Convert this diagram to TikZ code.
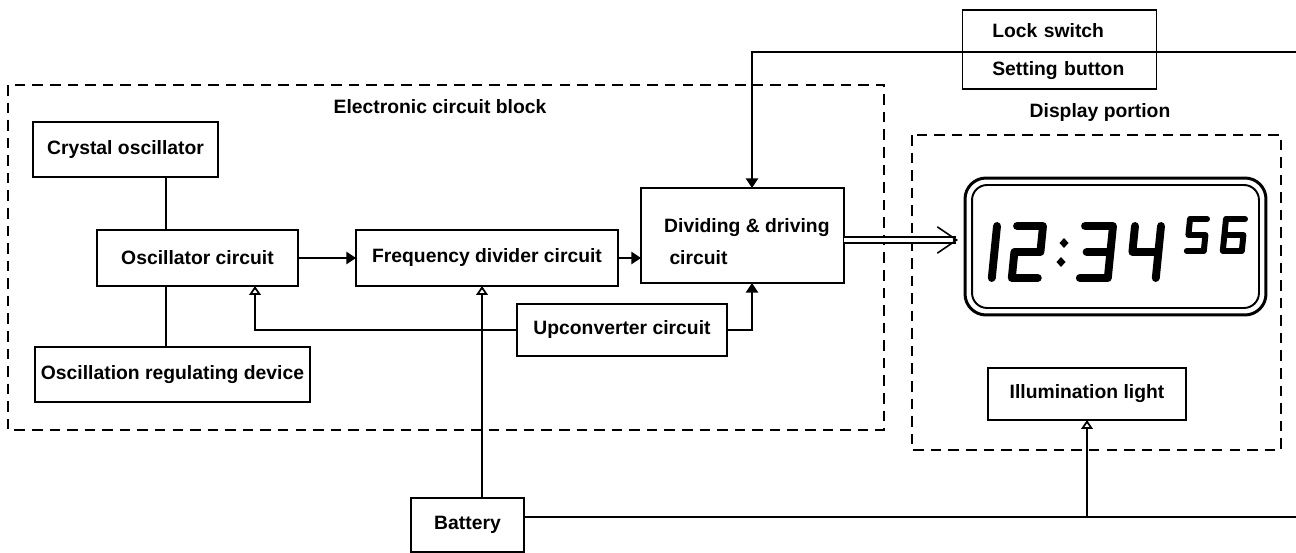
\documentclass[tikz,border=0pt]{standalone}
\usepackage{fontspec}
\setmainfont{Liberation Sans}
\usetikzlibrary{arrows.meta,positioning,calc}
\tikzset{
  blk/.style={draw,line width=1pt,outer sep=0pt,inner sep=2pt,font=\fontsize{11}{13}\selectfont\bfseries,align=center},
  grp/.style={draw,line width=1pt,dash pattern=on 6pt off 4pt},
  grplabel/.style={font=\fontsize{11}{13}\selectfont\bfseries},
  ln/.style={line width=1pt},
  ar/.style={ln,-{Triangle[length=5.5pt,width=7pt]}},
  aro/.style={ln,-{Triangle[open,length=5pt,width=6.5pt]}},
  segline/.style={line width=4.5pt,line cap=round,line join=round},
  segsmall/.style={segline,line width=3.4pt},
}
% one slanted seven-segment figure: [style]{x}{y}{w}{h}{strokes}
\newcommand{\lcddigit}[6][segline]{%
  \begin{scope}[shift={(#2,#3)},xslant=0.1,xscale=#4,yscale=#5]
    \draw[#1] #6;
  \end{scope}}
\begin{document}
\begin{tikzpicture}[x=0.02cm,y=-0.02cm]
  \useasboundingbox (0,0) rectangle (1296,553);
  % groups
  \draw[grp] (8,85) rectangle (884,430);
  \node[grplabel] (ecblabel) at (440,107) {Electronic circuit block};
  \draw[grp] (912,135) rectangle (1281,450);
  \node[grplabel] (displabel) at (1100,113) {Display portion};
  % blocks
  \node[blk,minimum width=3.70cm,minimum height=1.10cm] (crystal) at (125.5,149.5) {Crystal oscillator};
  \node[blk,minimum width=4.02cm,minimum height=1.12cm] (osc) at (197.5,258) {Oscillator circuit};
  \node[blk,minimum width=5.50cm,minimum height=1.10cm] (reg) at (172.5,374.5) {Oscillation regulating device};
  \node[blk,minimum width=5.24cm,minimum height=1.12cm] (freq) at (487,258) {Frequency divider circuit};
  \node[blk,minimum width=4.06cm,minimum height=1.90cm] (div) at (742.5,235.5) {};
  \node[grplabel,align=left,anchor=west] (divtext) at ($(div.west)+(17,6)$) {Dividing \& driving\\[5.5pt]\hspace{3pt}circuit};
  \node[blk,minimum width=4.20cm,minimum height=1.04cm] (upconv) at (622,330) {Upconverter circuit};
  \node[blk,minimum width=2.26cm,minimum height=1.08cm] (battery) at (467.5,525) {Battery};
  \node[blk,align=left,text width=76.5pt,inner xsep=17pt,minimum height=0.84cm] (lock) at (1059.5,31) {Lock switch};
  \node[blk,align=left,text width=76.5pt,inner xsep=17pt,minimum height=0.74cm,below=0pt of lock] (setting) {Setting button};
  \node[blk,minimum width=3.96cm,minimum height=1.04cm] (illum) at (1087,394) {Illumination light};
  % display panel
  \node[draw,line width=1.7pt,rounded corners=0.42cm,minimum width=6.02cm,minimum height=2.74cm,outer sep=0pt] (lcd) at (1115.5,246.5) {};
  \draw[line width=1.1pt,rounded corners=0.3cm] ($(lcd.north west)+(7,7)$) rectangle ($(lcd.south east)+(-7,-7)$);
  \lcddigit{997}{226}{1}{52}{(0,0)--(0,1)}
  \lcddigit{1017}{226}{26}{52}{(0,0)--(1,0)--(1,0.5)--(0,0.5)--(0,1)--(1,1)}
  \lcddigit{1085}{226}{28}{52}{(0,0)--(1,0)--(1,1)--(0,1) (0.15,0.5)--(1,0.5)}
  \lcddigit{1135}{226}{26}{52}{(0,0)--(0,0.5)--(1,0.5) (1,0)--(1,1)}
  \lcddigit[segsmall]{1190}{219}{17}{32}{(1,0)--(0,0)--(0,0.5)--(1,0.5)--(1,1)--(0,1)}
  \lcddigit[segsmall]{1226}{219}{19}{32}{(1,0)--(0,0)--(0,1)--(1,1)--(1,0.5)--(0,0.5)}
  \foreach \cx/\cy in {1064/243,1061/262}
    \fill (\cx,\cy) +(0,-5) -- +(4.5,0) -- +(0,5) -- +(-4.5,0) -- cycle;
  % connections
  \coordinate (osctap) at (166,0);
  \coordinate (uptap) at (255,0);
  \coordinate (battap) at (482,0);
  \coordinate (locktap) at (752,52);
  \coordinate (lockend) at (1296,52);
  \coordinate (dispy) at (0,240);
  \coordinate (batline) at (0,517);
  \coordinate (batend) at (1296,517);
  \draw[ln] (crystal.south -| osctap) -- (osc.north -| osctap);
  \draw[ln] (osc.south -| osctap) -- (reg.north -| osctap);
  \draw[ar] (osc.east) -- (freq.west);
  \draw[ar] (freq.east) -- (freq.east -| div.west);
  \draw[aro] (upconv.west) -| (osc.south -| uptap);
  \draw[ar] (upconv.east) -| (div.south -| locktap);
  \draw[aro] (battery.north -| battap) -- (freq.south -| battap);
  \draw[ar] (lock.south west) -- (locktap) -- (div.north -| locktap);
  \draw[ln] (lock.south east) -- (lockend);
  \draw[line width=0.8pt] (battery.east |- batline) -- (batend);
  \draw[aro] (illum.south |- batline) -- (illum.south);
  \draw[line width=0.7pt,double distance=2.6pt] (div.east |- dispy) -- ($(lcd.west |- dispy)+(-9,0)$);
  \draw[line width=0.9pt,-{Straight Barb[length=11pt,width=15pt]}] ($(lcd.west |- dispy)+(-12,0)$) -- ($(lcd.west |- dispy)+(-7,0)$);
\end{tikzpicture}
\end{document}
